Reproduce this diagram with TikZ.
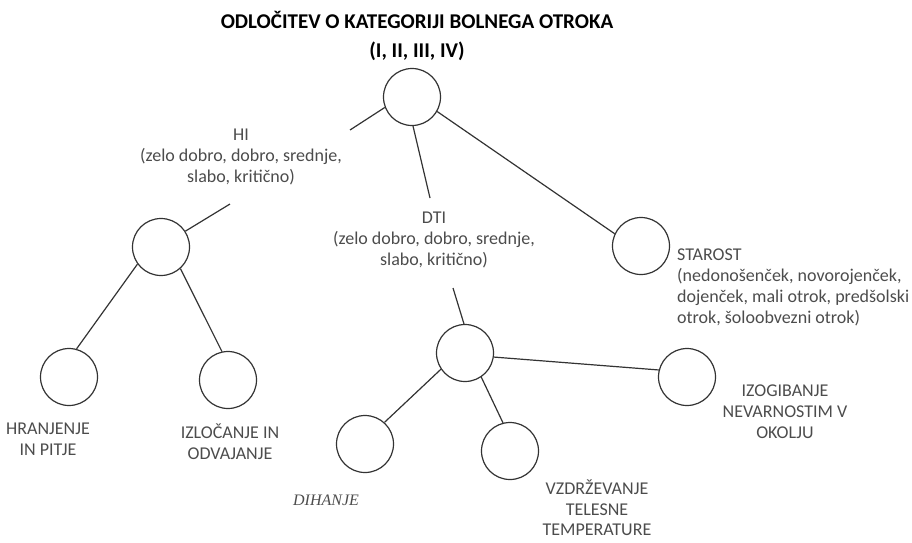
\documentclass[tikz,border=0pt]{standalone}
\usepackage{fontspec}
\setmainfont{Carlito}
\newfontfamily\timesfont{Liberation Serif}

\begin{document}
\begin{tikzpicture}[x=1pt, y=-1pt,
    leaf/.style={draw=black!80, line width=1.2pt, circle, minimum size=57pt, inner sep=0pt},
    lbl/.style={text=black!70, align=center, inner sep=0pt, font=\fontsize{18}{21}\selectfont},
    edge/.style={draw=black!80, line width=1.2pt}]
    \useasboundingbox (0,0) rectangle (912,542);
    % title
    \node[align=center, inner sep=0pt, font=\bfseries\fontsize{21}{29}\selectfont] (title) at (417,36)
        {ODLOČITEV O KATEGORIJI BOLNEGA OTROKA\\(I, II, III, IV)};
    % circles
    \node[leaf] (root) at (412,97) {};
    \node[leaf] (hi) at (161,247) {};
    \node[leaf] (star) at (641,246) {};
    \node[leaf] (dti) at (465,353) {};
    \node[leaf] (hran) at (69,377) {};
    \node[leaf] (izl) at (228,380) {};
    \node[leaf] (dih) at (365,444) {};
    \node[leaf] (vzd) at (510,451) {};
    \node[leaf] (izo) at (687,377) {};
    % labels
    \node[lbl] (hiL) at (241,157) {HI\\(zelo dobro, dobro, srednje,\\slabo, kritično)};
    \node[lbl] (dtiL) at (434,240) {DTI\\(zelo dobro, dobro, srednje,\\slabo, kritično)};
    \node[lbl, anchor=west, align=left] (starL) at (677,287)
        {STAROST\\(nedonošenček, novorojenček,\\dojenček, mali otrok, predšolski\\otrok, šoloobvezni otrok)};
    \node[lbl] (hranL) at (48,439) {HRANJENJE\\IN PITJE};
    \node[lbl] (izlL) at (230,442) {IZLOČANJE IN\\ODVAJANJE};
    \node[lbl, font=\timesfont\itshape\fontsize{16}{20}\selectfont] (dihL) at (326,500) {DIHANJE};
    \node[lbl, font=\fontsize{18}{20.5}\selectfont] (vzdL) at (597,508) {VZDRŽEVANJE\\TELESNE\\TEMPERATURE};
    \node[lbl] (izoL) at (785,412) {IZOGIBANJE\\NEVARNOSTIM V\\OKOLJU};
    % free ends towards the labels
    \coordinate (hiTop) at (350,130);
    \coordinate (dtiTop) at (430,198);
    \coordinate (hiBot) at (230,204);
    \coordinate (dtiBot) at (453,288);
    % connectors
    \draw[edge] (root.201) -- (hiTop);
    \draw[edge] (root.272) -- (dtiTop);
    \draw[edge] (root.330) -- (star.155);
    \draw[edge] (hiBot) -- (hi.33);
    \draw[edge] (hi.216) -- (hran.75);
    \draw[edge] (hi.312) -- (izl.102);
    \draw[edge] (dtiBot) -- (dti.92);
    \draw[edge] (dti.214) -- (dih.48);
    \draw[edge] (dti.304) -- (vzd.104);
    \draw[edge] (dti.352) -- (izo.166);
\end{tikzpicture}
\end{document}
